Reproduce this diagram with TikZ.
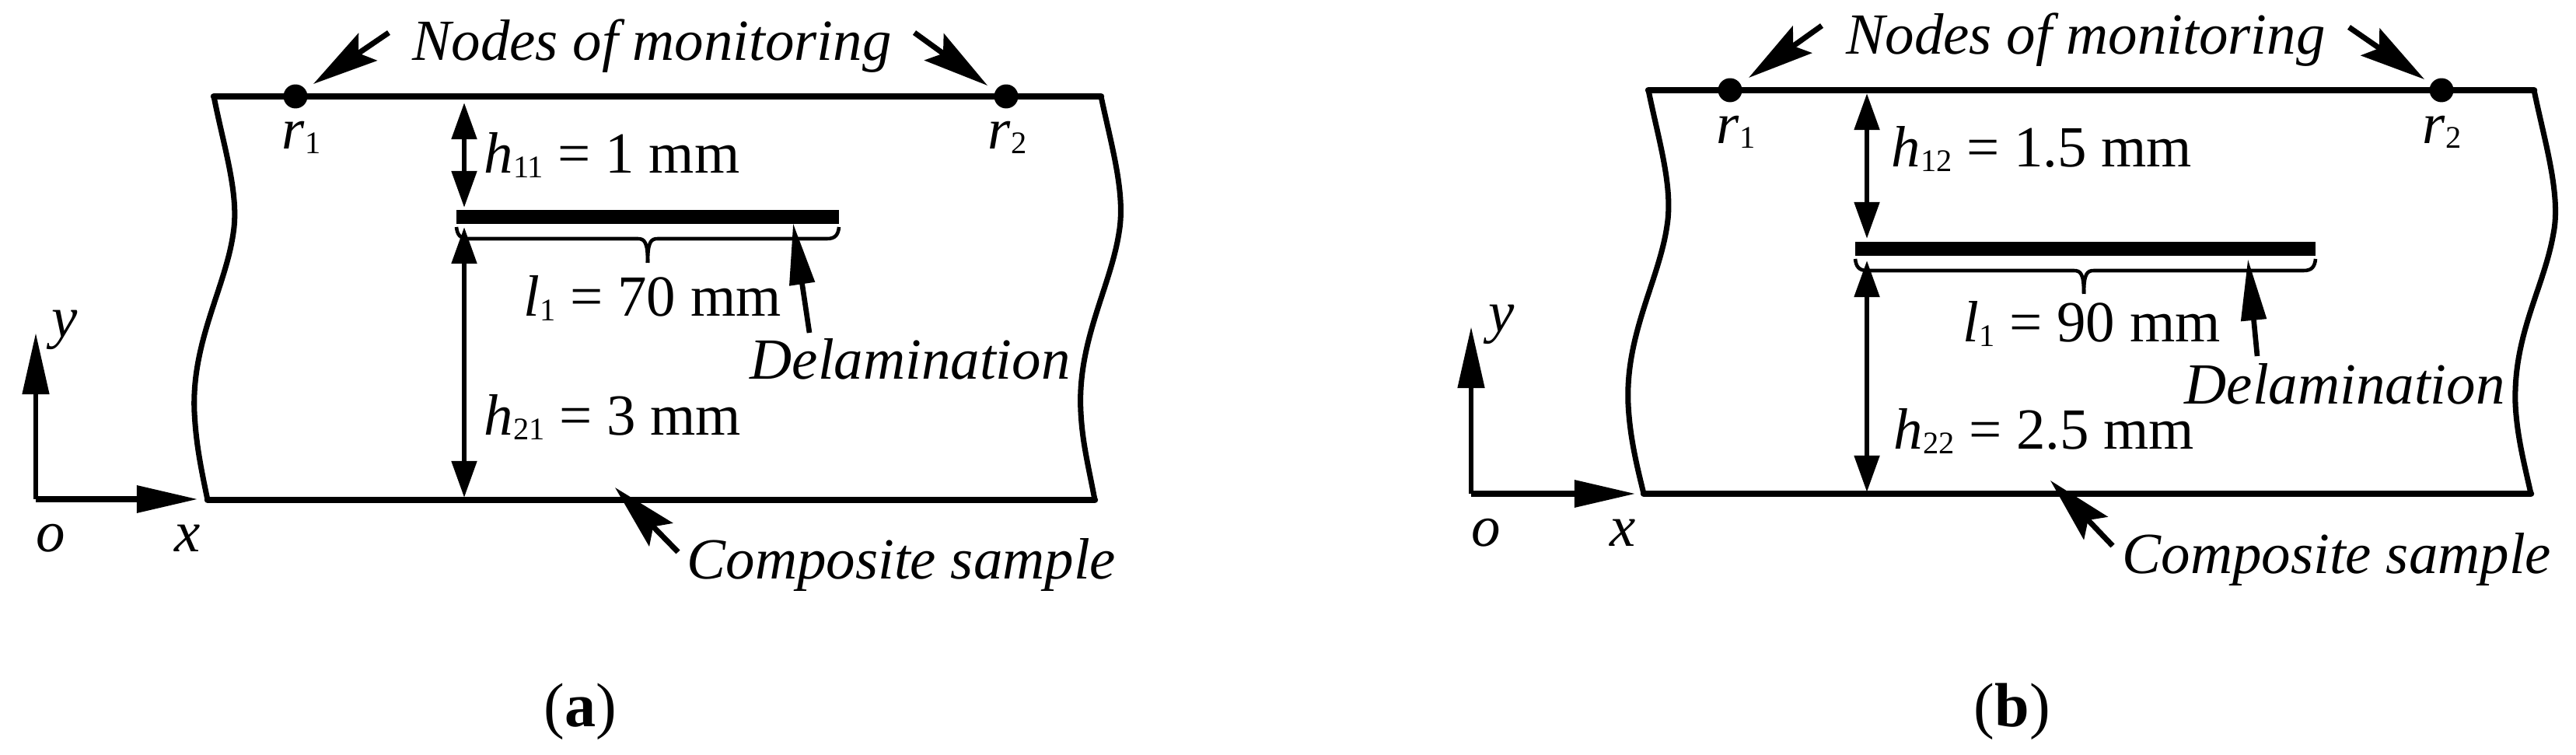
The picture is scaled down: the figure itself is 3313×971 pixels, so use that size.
\documentclass[tikz,border=0pt]{standalone}
\usepackage{fontspec}
\setmainfont{Liberation Serif}
\usetikzlibrary{arrows.meta}
\newcommand{\subnum}[1]{\raisebox{-1.5pt}{\fontsize{11.5pt}{13pt}\selectfont #1}}
\tikzset{
  txt/.style={anchor=base west,inner sep=0pt,font=\fontsize{21.3pt}{24pt}\selectfont},
  itxt/.style={txt,font=\fontsize{21.3pt}{24pt}\selectfont\itshape},
  captxt/.style={txt,font=\fontsize{22.8pt}{26pt}\selectfont},
  dotmark/.style={circle,fill=black,inner sep=0pt,minimum size=8.8pt},
  edgeline/.style={line width=2.4pt,line cap=round},
  sideline/.style={line width=2pt},
  barline/.style={line width=5.2pt},
  braceline/.style={line width=1.3pt},
  dimline/.style={line width=1.8pt,{Triangle[length=13.4pt,width=9pt]}-{Triangle[length=13.4pt,width=9pt]}},
  leader/.style={line width=2pt,-{Stealth[length=24pt,width=12pt,inset=4pt]}},
  flatleader/.style={line width=1.9pt,-{Triangle[length=22.5pt,width=9pt]}},
  axisline/.style={line width=1.9pt,-{Triangle[length=22.5pt,width=9.5pt]}}
}
\begin{document}
\begin{tikzpicture}[x=0.01cm,y=-0.01cm]
\useasboundingbox (0,0) rectangle (3313,971);

% panel a
\draw[edgeline] (275,124) -- (1416,124);
\draw[edgeline] (267,643) -- (1408,643);
\draw[sideline] (275,124) .. controls (288,190) and (308,250) .. (300,300) .. controls (290,370) and (246,440) .. (250,530) .. controls (252,570) and (258,600) .. (267,643);
\draw[sideline] (1416,124) .. controls (1430,190) and (1448,250) .. (1439,300) .. controls (1428,370) and (1385,440) .. (1390,530) .. controls (1392,570) and (1400,600) .. (1408,643);
\node[dotmark] (ar1) at (380,124) {};
\node[dotmark] (ar2) at (1294,124) {};
\node[itxt] (anodes) at (530,78) {Nodes of monitoring};
\coordinate (al1) at (500,42);
\coordinate (al2) at (403,108);
\coordinate (ar3) at (1176,42);
\coordinate (ar4) at (1270,110);
\draw[leader] (al1) -- (al2);
\draw[leader] (ar3) -- (ar4);
\node[txt] at (362,192) {\textit{r}\subnum{1}};
\node[txt] at (1270,192) {\textit{r}\subnum{2}};
\coordinate (abarl) at (587,279);
\coordinate (abarr) at (1079,279);
\draw[barline] (abarl) -- (abarr);
\coordinate (ah1) at (597,132);
\coordinate (ah2) at (597,267);
\coordinate (ah3) at (597,292);
\coordinate (ah4) at (597,640);
\draw[dimline] (ah1) -- (ah2);
\draw[dimline] (ah3) -- (ah4);
\node[txt] (ah11) at (622,223) {\textit{h}\subnum{11} = 1 mm};
\node[txt] (ah21) at (622,560) {\textit{h}\subnum{21} = 3 mm};
\draw[braceline] (587,292) .. controls (588,302) and (592,307) .. (602,307) -- (820,307) .. controls (829,307) and (833,311) .. (833,338);
\draw[braceline] (1079,292) .. controls (1078,302) and (1074,307) .. (1064,307) -- (846,307) .. controls (837,307) and (833,311) .. (833,338);
\node[txt] (al) at (673,407) {\textit{l}\subnum{1} = 70 mm};
\node[itxt] (adel) at (964,488) {Delamination};
\coordinate (ad1) at (1041,428);
\coordinate (ad2) at (1020,287);
\draw[flatleader] (ad1) -- (ad2);
\node[itxt] (acomp) at (883,745) {Composite sample};
\coordinate (ac1) at (872,710);
\coordinate (ac2) at (791,627);
\draw[leader] (ac1) -- (ac2);
\coordinate (ao) at (46,642);
\coordinate (ay) at (46,428);
\coordinate (ax) at (255,642);
\draw[axisline] (ao) -- (ay);
\draw[axisline,line width=2.4pt] (ao) -- (ax);
\node[itxt] at (66,434) {y};
\node[itxt] at (46,710) {o};
\node[itxt] at (224,710) {x};
\node[captxt] at (699,935) {(\textbf{a})};

% panel b
\draw[edgeline] (2120,116) -- (3259,116);
\draw[edgeline] (2114,635) -- (3255,635);
\draw[sideline] (2120,116) .. controls (2133,180) and (2152,240) .. (2144,290) .. controls (2134,360) and (2090,430) .. (2094,520) .. controls (2096,560) and (2104,595) .. (2114,635);
\draw[sideline] (3259,116) .. controls (3272,180) and (3294,250) .. (3284,300) .. controls (3272,370) and (3232,430) .. (3235,520) .. controls (3237,560) and (3246,595) .. (3255,635);
\node[dotmark] (br1) at (2225,116) {};
\node[dotmark] (br2) at (3140,116) {};
\node[itxt] (bnodes) at (2374,70) {Nodes of monitoring};
\coordinate (bl1) at (2343,33);
\coordinate (bl2) at (2249,100);
\coordinate (br3) at (3021,35);
\coordinate (br4) at (3118,102);
\draw[leader] (bl1) -- (bl2);
\draw[leader] (br3) -- (br4);
\node[txt] at (2207,185) {\textit{r}\subnum{1}};
\node[txt] at (3115,185) {\textit{r}\subnum{2}};
\coordinate (bbarl) at (2386,320);
\coordinate (bbarr) at (2978,320);
\draw[barline] (bbarl) -- (bbarr);
\coordinate (bh1) at (2401,120);
\coordinate (bh2) at (2401,307);
\coordinate (bh3) at (2401,335);
\coordinate (bh4) at (2401,633);
\draw[dimline] (bh1) -- (bh2);
\draw[dimline] (bh3) -- (bh4);
\node[txt] (bh12) at (2432,215) {\textit{h}\subnum{12} = 1.5 mm};
\node[txt] (bh22) at (2435,578) {\textit{h}\subnum{22} = 2.5 mm};
\draw[braceline] (2386,333) .. controls (2387,343) and (2391,348) .. (2401,348) -- (2667,348) .. controls (2676,348) and (2680,352) .. (2680,378);
\draw[braceline] (2978,333) .. controls (2977,343) and (2973,348) .. (2963,348) -- (2693,348) .. controls (2684,348) and (2680,352) .. (2680,378);
\node[txt] (bl) at (2524,440) {\textit{l}\subnum{1} = 90 mm};
\node[itxt] (bdel) at (2809,520) {Delamination};
\coordinate (bd1) at (2903,458);
\coordinate (bd2) at (2891,333);
\draw[flatleader] (bd1) -- (bd2);
\node[itxt] (bcomp) at (2729,738) {Composite sample};
\coordinate (bc1) at (2717,702);
\coordinate (bc2) at (2637,618);
\draw[leader] (bc1) -- (bc2);
\coordinate (bo) at (1892,635);
\coordinate (by) at (1892,420);
\coordinate (bx) at (2104,635);
\draw[axisline] (bo) -- (by);
\draw[axisline,line width=2.4pt] (bo) -- (bx);
\node[itxt] at (1914,427) {y};
\node[itxt] at (1892,703) {o};
\node[itxt] at (2070,703) {x};
\node[captxt] at (2538,935) {(\textbf{b})};

\end{tikzpicture}
\end{document}
